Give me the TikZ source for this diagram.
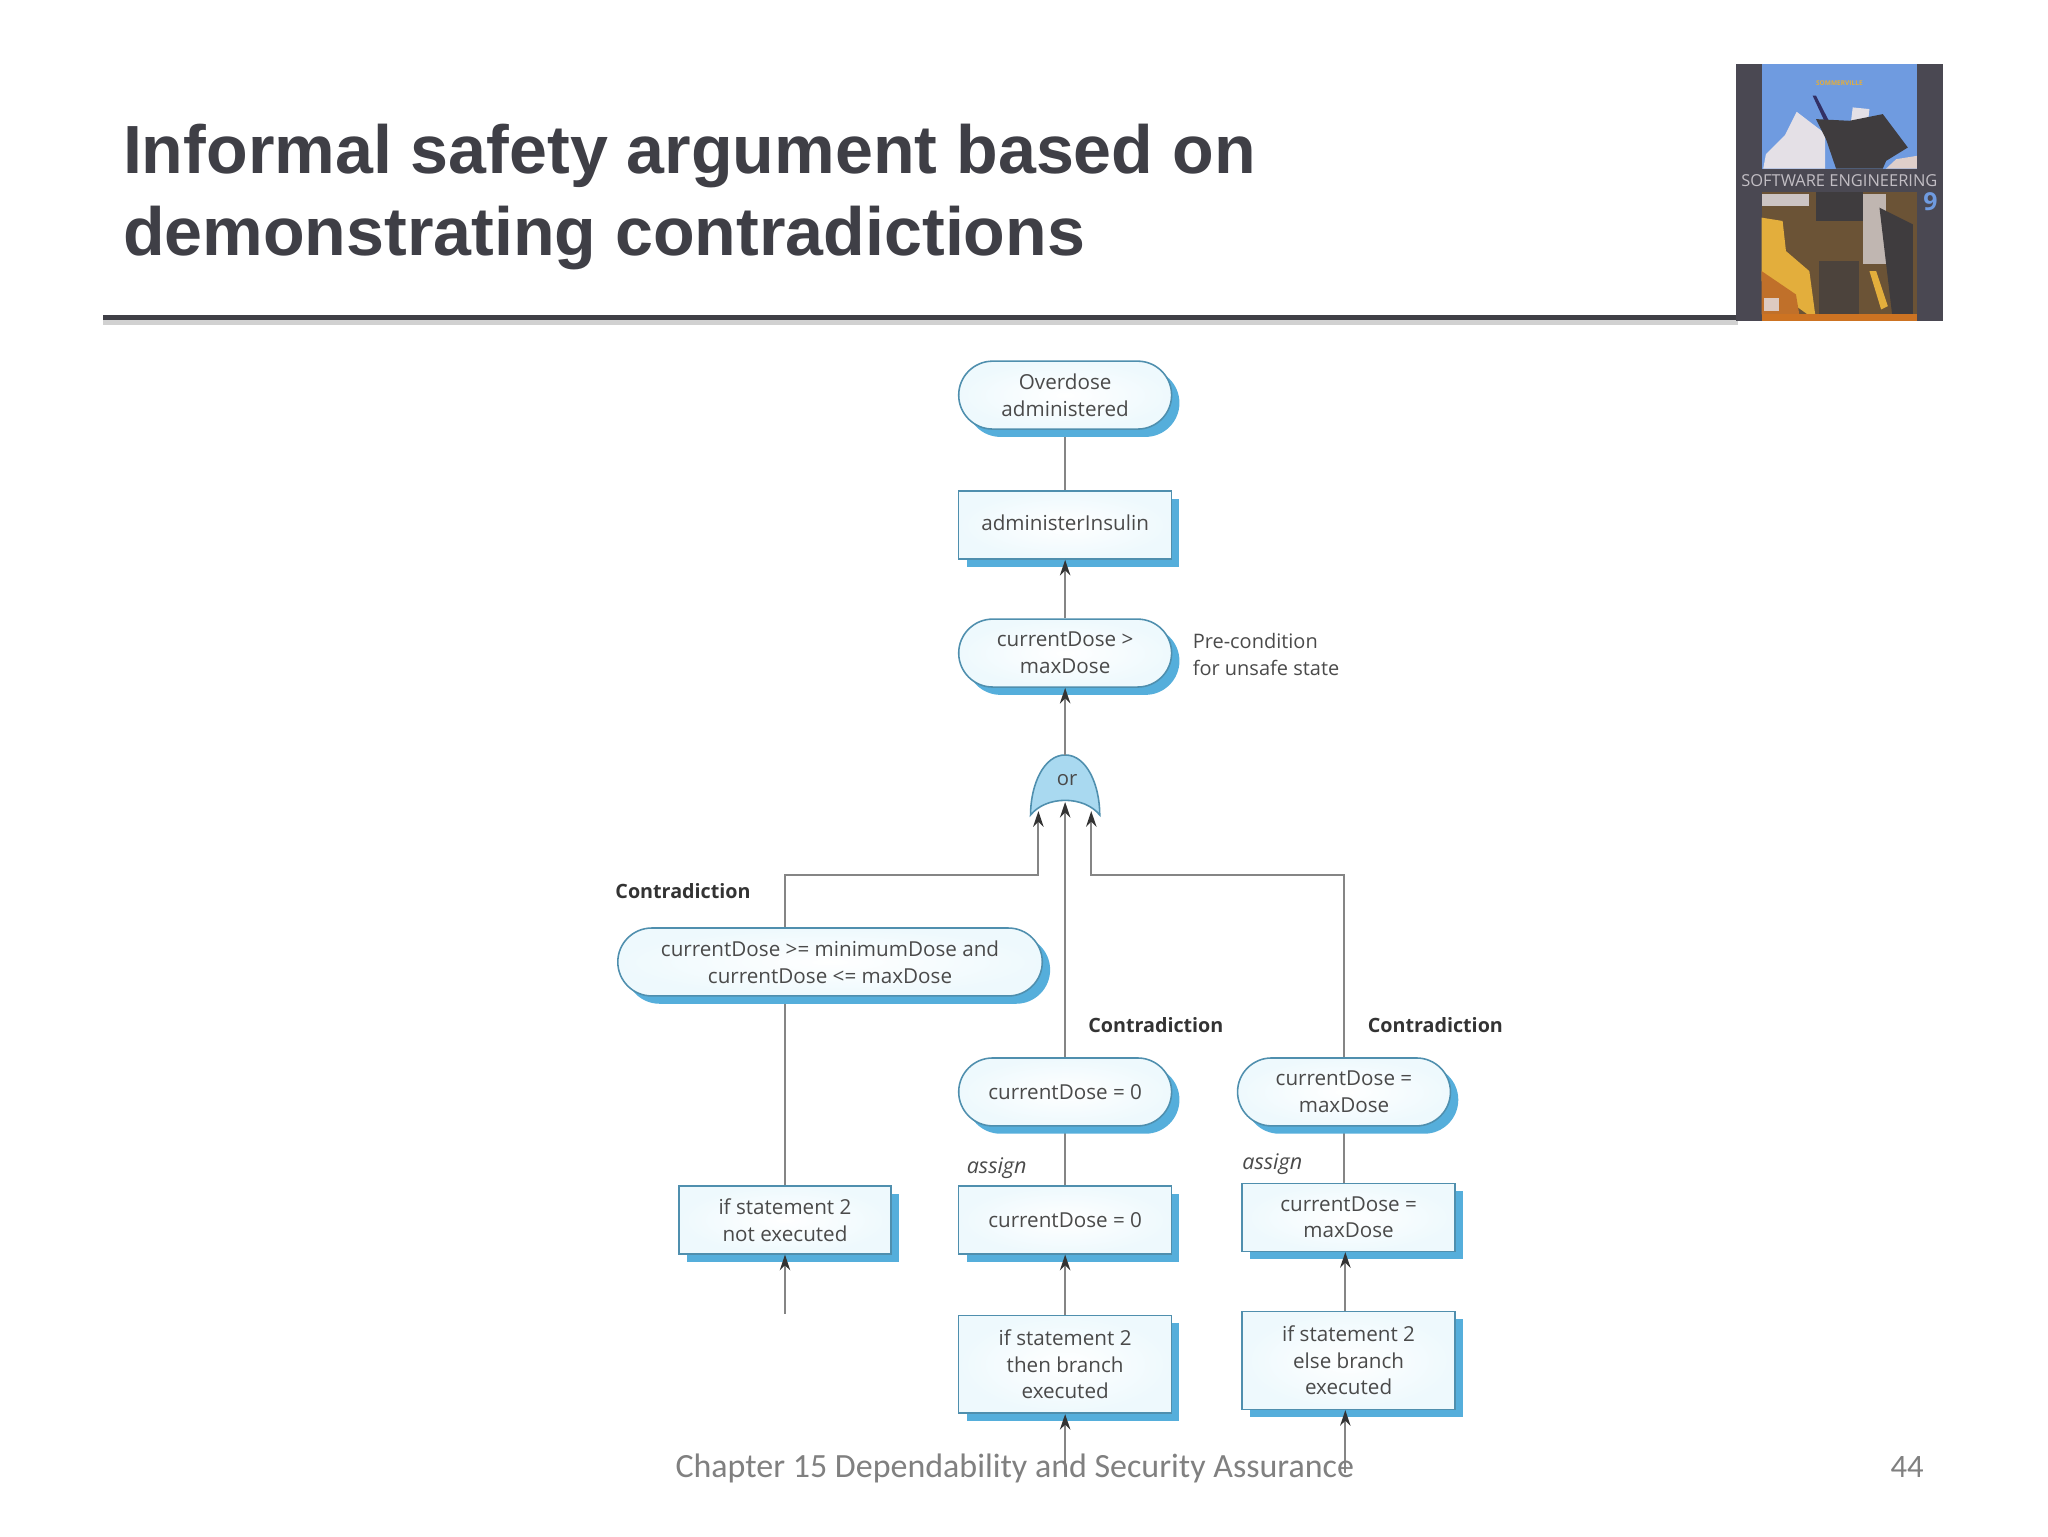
\documentclass[tikz,border=0pt]{standalone}
\usepackage{fontspec}
\setmainfont{Open Sans}
\newfontfamily\titlefont{Liberation Sans}
\newfontfamily\footfont{Carlito}
\usetikzlibrary{arrows.meta, shapes.misc, shadows, backgrounds}

\definecolor{edgeblue}{HTML}{4F8FAE}
\definecolor{shadeblue}{HTML}{55AEDB}
\definecolor{paleblue}{HTML}{EEF9FD}
\definecolor{gateblue}{HTML}{A9D9F0}
\definecolor{linegrey}{HTML}{858585}
\definecolor{inkgrey}{HTML}{4A4A4A}
\definecolor{headgrey}{HTML}{3F3F46}
\definecolor{spine}{HTML}{4A4852}
\definecolor{sky}{HTML}{6F9BE0}
\definecolor{steel}{HTML}{E4E0E6}
\definecolor{brownish}{HTML}{6B5336}
\definecolor{ochre}{HTML}{E3AE3C}
\definecolor{rust}{HTML}{C0702A}
\definecolor{darkfig}{HTML}{3F3C3E}

\tikzset{
    x=1pt, y=-1pt,
    stated/.style={rounded rectangle, rounded rectangle arc length=180, draw=edgeblue, line width=1.2pt,
        inner color=white, outer color=paleblue, minimum height=52pt, inner sep=0pt, align=center,
        text=inkgrey, font=\fontsize{15.8}{20.5}\selectfont,
        general shadow={shadow xshift=6pt, shadow yshift=-6pt, fill=shadeblue, draw=none}},
    action/.style={rectangle, draw=edgeblue, line width=1.2pt,
        inner color=white, outer color=paleblue, inner sep=0pt, align=center,
        text=inkgrey, font=\fontsize{15.8}{20.5}\selectfont,
        general shadow={shadow xshift=6pt, shadow yshift=-6pt, fill=shadeblue, draw=none}},
    remark/.style={anchor=west, inner sep=0pt, align=left, text=inkgrey, font=\fontsize{15.3}{20.5}\selectfont},
    flagged/.style={remark, text=black!80, font=\fontsize{15.1}{20.5}\bfseries\selectfont},
    wire/.style={draw=linegrey, line width=1.5pt},
    flow/.style={wire, -{Stealth[length=12pt, width=8pt, black!80]}},
}

\begin{document}
\begin{tikzpicture}
    \useasboundingbox (0,0) rectangle (1568,1176);

    %% Slide frame

    % Heading
    \node (heading) [anchor=west, inner sep=0pt, align=left, text=headgrey,
        font=\titlefont\fontsize{52.2}{63}\bfseries\selectfont] at (94,151)
        {Informal safety argument based on\\demonstrating contradictions};

    % Rule under the heading
    \fill[black!18] (79,245) rectangle (1331,248.5);
    \fill[headgrey] (79,241) rectangle (1331,245);

    % Book cover
    \begin{scope}[shift={(1329,49)}, x=0.2557pt, y=-0.2557pt]
        \fill[spine] (0,0) rectangle (621,768);
        \fill[sky] (77,0) rectangle (542,313);
        \fill[steel] (147,213) -- (182,143) -- (267,208) -- (267,313) -- (82,313) -- (90,270) -- cycle;
        \fill[steel] (350,130) -- (400,135) -- (395,180) -- (345,170) -- cycle;
        \fill[steel!85!rust] (450,313) -- (480,285) -- (542,275) -- (542,313) -- cycle;
        \fill[darkfig!80!blue] (230,95) -- (240,95) -- (340,290) -- (325,300) -- cycle;
        \fill[darkfig] (240,165) -- (340,170) -- (440,150) -- (515,250) -- (450,290) -- (440,313) -- (300,313) -- (270,225) -- cycle;
        \node (coverauthor) [inner sep=0pt, text=ochre, font=\fontsize{5}{6}\bfseries\selectfont] at (310,57) {SOMMERVILLE};
        \fill[brownish] (77,383) rectangle (542,768);
        \fill[steel!80!brownish] (77,388) rectangle (220,425);
        \fill[darkfig] (240,383) rectangle (380,470);
        \fill[steel!70!brownish] (380,390) rectangle (450,600);
        \fill[ochre] (77,460) -- (140,470) -- (150,560) -- (220,620) -- (240,768) -- (77,650) -- cycle;
        \fill[rust] (77,620) -- (180,690) -- (190,750) -- (77,750) -- cycle;
        \fill[darkfig!70!brownish] (250,590) rectangle (370,768);
        \fill[darkfig] (430,430) -- (530,480) -- (530,768) -- (470,768) -- cycle;
        \fill[ochre] (400,620) -- (420,620) -- (455,725) -- (435,735) -- cycle;
        \fill[steel!80!rust] (85,700) rectangle (130,740);
        \fill[rust!80!orange] (77,750) rectangle (542,768);
        \node (covername) [inner sep=0pt, text=steel!85!black, font=\fontsize{12.6}{14}\selectfont] at (310,348) {SOFTWARE ENGINEERING};
        \node (coveredition) [inner sep=0pt, text=sky, font=\fontsize{19}{20}\bfseries\selectfont] at (583,412) {9};
    \end{scope}

    %% Argument

    % Statements
    \node (overdose) [stated, minimum width=163pt] at (815.5,302.5) {Overdose\\administered};
    \node (insulin) [action, minimum width=163pt, minimum height=52pt, text depth=3pt] at (815.5,402) {administerInsulin};
    \node (exceeds) [stated, minimum width=163pt] at (815.5,500) {currentDose >\\maxDose};
    \node (range) [stated, minimum width=325pt] at (635.5,736.5) {currentDose >= minimumDose and\\currentDose <= maxDose};
    \node (zerodose) [stated, minimum width=163pt] at (815.5,836) {currentDose = 0};
    \node (topdose) [stated, minimum width=163pt] at (1029,836) {currentDose =\\maxDose};

    % Code blocks
    \node (skipped) [action, minimum width=162pt, minimum height=52pt] at (601,934) {if statement 2\\not executed};
    \node (setzero) [action, minimum width=163pt, minimum height=52pt] at (815.5,934) {currentDose = 0};
    \node (settop) [action, minimum width=163pt, minimum height=52pt] at (1032.5,932) {currentDose =\\maxDose};
    \node (thenpart) [action, minimum width=163pt, minimum height=75pt] at (815.5,1044.5) {if statement 2\\then branch\\executed};
    \node (elsepart) [action, minimum width=163pt, minimum height=75pt] at (1032.5,1041.5) {if statement 2\\else branch\\executed};

    % Or gate
    \fill[gateblue, draw=edgeblue, line width=1.2pt] (789,624) .. controls (789,601) and (799,578) .. (815.5,578)
        .. controls (832,578) and (842,601) .. (842,624) .. controls (830,609) and (801,609) .. (789,624) -- cycle;
    \node (orgate) [inner sep=0pt, text=inkgrey, font=\fontsize{15.5}{20.5}\selectfont] at (817,597) {or};
    \coordinate (gateout) at (815.5,578);
    \coordinate (gateleft) at (795,621);
    \coordinate (gatemid) at (815.5,614);
    \coordinate (gateright) at (835.5,621);
    \coordinate (busleft) at (795,670);
    \coordinate (busright) at (835.5,670);
    \coordinate (skipfoot) at (601,1006);
    \coordinate (thenfoot) at (815.5,1128);
    \coordinate (elsefoot) at (1030,1128);

    % Connectors
    \begin{scope}[on background layer]
        \draw[flow] (skipped.north) -- (skipped.north |- busleft) -- (busleft) -- (gateleft);
        \draw[wire] (overdose.south) -- (insulin.north);
        \draw[wire] (zerodose.south) -- (setzero.north);
        \draw[wire] (topdose.south) -- (topdose.south |- settop.north);
    \end{scope}
    \draw[flow] (exceeds.north) -- (insulin.south);
    \draw[flow] (gateout) -- (exceeds.south);
    \draw[flow] (zerodose.north) -- (gatemid);
    \draw[flow] (topdose.north) -- (topdose.north |- busright) -- (busright) -- (gateright);
    \draw[flow] (skipfoot) -- (skipped.south);
    \draw[flow] (thenpart.north) -- (setzero.south);
    \draw[flow] (elsepart.north -| elsefoot) -- (settop.south -| elsefoot);
    \draw[flow] (thenfoot) -- (thenpart.south);
    \draw[flow] (elsefoot) -- (elsepart.south -| elsefoot);

    % Notes
    \node (unsafe) [remark] at (913,501) {Pre-condition\\for unsafe state};
    \node (clashleft) [flagged] at (471,682) {Contradiction};
    \node (clashmid) [flagged] at (833,785) {Contradiction};
    \node (clashright) [flagged] at (1047,785) {Contradiction};
    \node (assignzero) [remark, font=\fontsize{16.5}{20.5}\itshape\selectfont] at (740,894) {assign};
    \node (assigntop) [remark, font=\fontsize{16.5}{20.5}\itshape\selectfont] at (951,891) {assign};

    % Footer
    \node (chapter) [anchor=west, inner sep=0pt, text=black!50, font=\footfont\fontsize{26}{30}\selectfont] at (517,1124)
        {Chapter 15 Dependability and Security Assurance};
    \node (pageno) [anchor=east, inner sep=0pt, text=black!50, font=\footfont\fontsize{25}{30}\selectfont] at (1473,1123) {44};

\end{tikzpicture}
\end{document}
